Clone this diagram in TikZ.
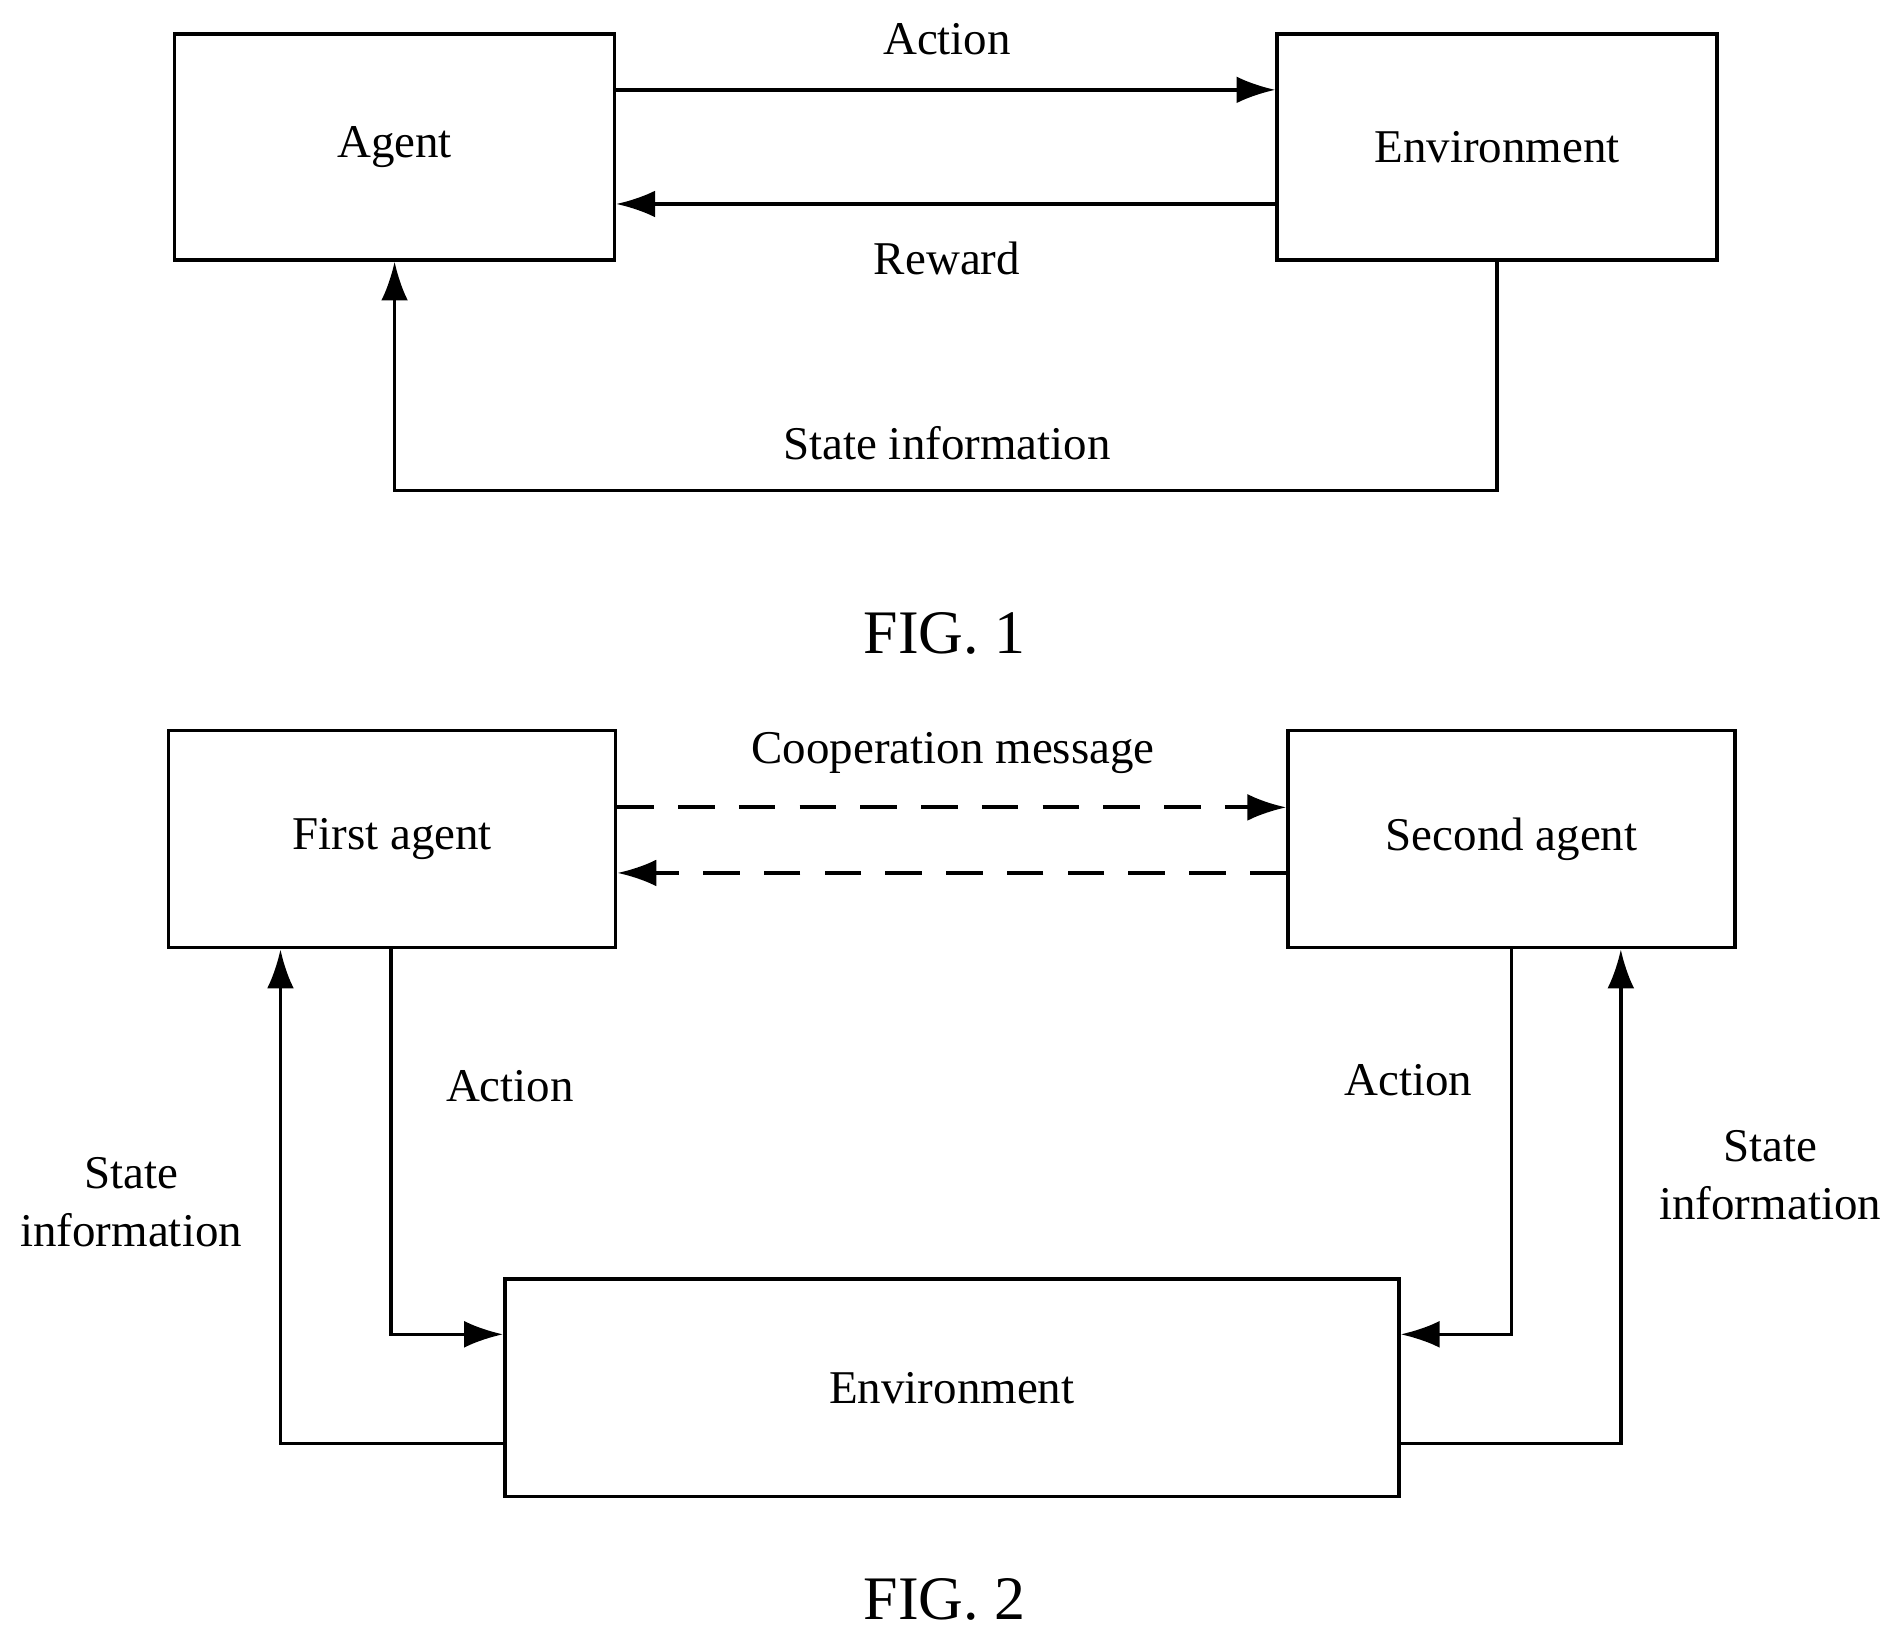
\documentclass[tikz,border=0pt]{standalone}
\usepackage{fontspec}
\setmainfont{Liberation Serif}
\usetikzlibrary{arrows.meta,positioning,calc}

\begin{document}
\begin{tikzpicture}[
  x=0.01cm, y=-0.01cm,
  >={Latex[length=3.2mm,width=2.2mm]},
  every node/.style={font=\fontsize{11}{13}\selectfont},
  blk/.style={draw,line width=0.8pt,inner sep=0pt},
  flow/.style={->,line width=0.8pt},
  coop/.style={->,line width=0.9pt,dash pattern=on 3mm off 2mm},
  lbl/.style={align=center},
  figcap/.style={font=\fontsize{14.5}{17}\selectfont}
]
\useasboundingbox (0,0) rectangle (1560,1342);
% FIG. 1
\node[blk,minimum width=3.62cm,minimum height=1.86cm] (agent) at (325,121) {Agent};
\node[blk,minimum width=3.62cm,minimum height=1.86cm] (env) at (1233,121) {Environment};
\draw[flow] (agent.east |- 0,74) -- (env.west |- 0,74);
\draw[flow] (env.west |- 0,168) -- (agent.east |- 0,168);
\coordinate (c1) at (1233,404);
\draw[flow] (env.south) -- (c1) -| (agent.south);
\node[lbl] (lact) at (780,32) {Action};
\node[lbl] (lrew) at (780,213) {Reward};
\node[lbl] (lst) at (780,365) {State information};
\node[figcap] (fig1) at (778,522) {FIG. 1};

% FIG. 2
\node[blk,minimum width=3.68cm,minimum height=1.79cm] (ag1) at (323,691) {First agent};
\node[blk,minimum width=3.68cm,minimum height=1.79cm] (ag2) at (1245,691) {Second agent};
\node[blk,minimum width=7.36cm,minimum height=1.79cm] (env2) at (784,1143) {Environment};
\draw[coop] (ag1.east |- 0,665) -- (ag2.west |- 0,665);
\draw[coop] (ag2.west |- 0,719) -- (ag1.east |- 0,719);
\draw[flow] (322,782) |- (env2.west |- 0,1099);
\draw[flow] (env2.west |- 0,1189) -| (231,782);
\draw[flow] (1245,782) |- (env2.east |- 0,1099);
\draw[flow] (env2.east |- 0,1189) -| (1335,782);
\node[lbl] (lcoop) at (785,620) {Cooperation message};
\node[lbl] (la1) at (420,895) {Action};
\node[lbl] (la2) at (1160,890) {Action};
\node[lbl,font=\fontsize{11}{13.5}\selectfont] (ls1) at (108,990) {State\\information};
\node[lbl,font=\fontsize{11}{13.5}\selectfont] (ls2) at (1458,968) {State\\information};
\node[figcap] (fig2) at (778,1317) {FIG. 2};
\end{tikzpicture}
\end{document}
